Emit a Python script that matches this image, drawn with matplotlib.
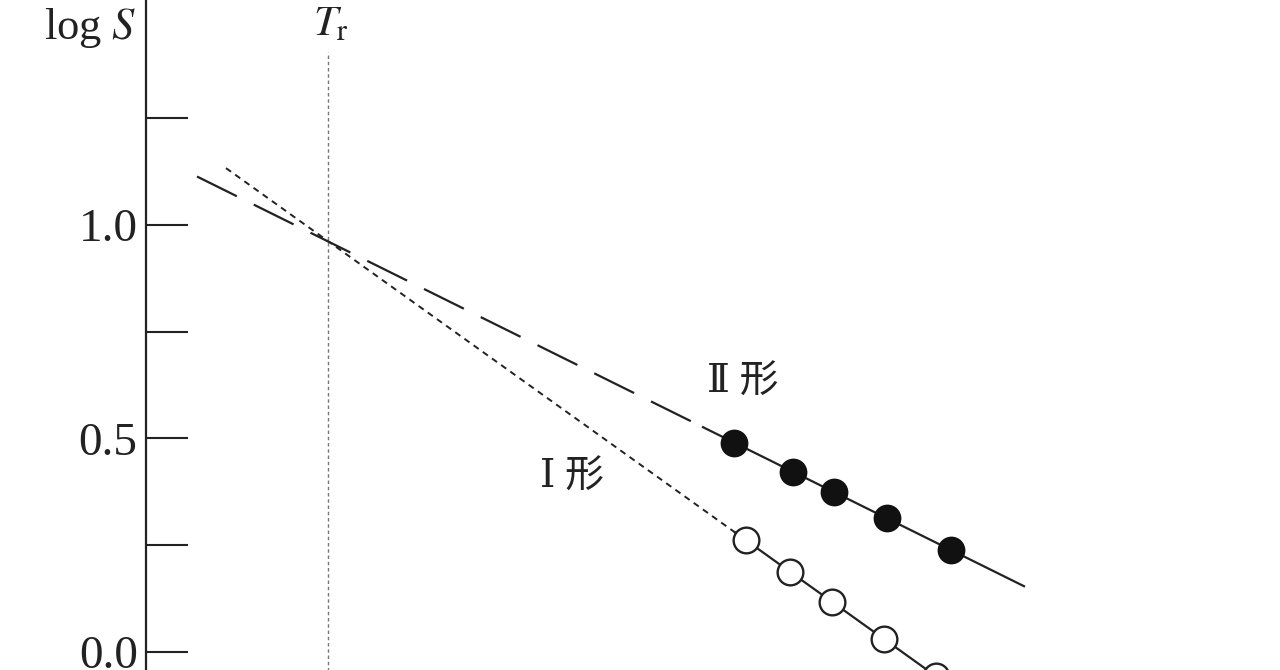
import matplotlib
matplotlib.use("Agg")
import matplotlib.pyplot as plt
import numpy as np

# data (x: arbitrary units, left spine = 0)
x_II = [5.88, 6.47, 6.88, 7.41, 8.05]
logS_II = [0.490, 0.422, 0.373, 0.313, 0.238]
x_I = [6.00, 6.44, 6.86, 7.38, 7.90]
logS_I = [0.262, 0.186, 0.117, 0.029, -0.057]
x_Tr = 1.82

# extent of the drawn lines
II_dash = [0.51, 5.57]
II_solid = [5.57, 8.78]
I_dot = [0.80, 5.89]
I_solid = [5.89, 8.6]

yticks_major = [0.0, 0.5, 1.0]
ytick_labels = ["0.0", "0.5", "1.0"]
yticks_minor = [0.25, 0.75, 1.25]

plt.rcParams["mathtext.fontset"] = "stix"
ink = "#222222"

fig = plt.figure(figsize=(12.8, 6.7), dpi=100)
ax = fig.add_axes([146 / 1280, 0, 1 - 146 / 1280, 1])
ax.set_xlim(0, 11.34)
ax.set_ylim(-0.043, 1.527)

for s in ["top", "right", "bottom"]:
    ax.spines[s].set_visible(False)
ax.spines["left"].set_linewidth(1.6)
ax.spines["left"].set_color(ink)

ax.set_xticks([])
ax.set_yticks(yticks_major)
ax.set_yticklabels(ytick_labels, family="Liberation Serif", fontsize=34, color=ink)
ax.set_yticks(yticks_minor, minor=True)
ax.tick_params(axis="y", which="both", direction="in", length=30, width=1.5,
               color=ink, pad=6)

# fitted lines
pII = np.polyfit(x_II, logS_II, 1)
pI = np.polyfit(x_I, logS_I, 1)

ax.plot(II_dash, np.polyval(pII, II_dash), color=ink, lw=1.6,
        linestyle=(0, (20, 8.5)))
ax.plot(II_solid, np.polyval(pII, II_solid), color=ink, lw=1.6)
ax.plot(I_dot, np.polyval(pI, I_dot), color=ink, lw=1.4,
        linestyle=(0, (3.2, 2.6)))
ax.plot(I_solid, np.polyval(pI, I_solid), color=ink, lw=1.6)

ax.plot(x_II, logS_II, "o", ms=18.5, mfc="#111111", mec="#111111", mew=1.5,
        zorder=5)
ax.plot(x_I, logS_I, "o", ms=18.5, mfc="white", mec=ink, mew=1.7, zorder=5)

# transition temperature
ax.plot([x_Tr, x_Tr], [-0.1, 1.405], color="#777777", lw=1.0,
        linestyle=(0, (2.5, 2)))
ax.text(x_Tr + 0.03, 1.445, r"$T_{\mathrm{r}}$", fontsize=31, color=ink,
        ha="center", va="baseline")

fig.text(137 / 1280, 1 - 39 / 670, r"log $S$", fontsize=32, color=ink,
         ha="right", va="baseline", family="Liberation Serif",
         math_fontfamily="stix")

lab_font = ["Liberation Serif", "DejaVu Serif", "Noto Sans CJK JP"]
ax.text(5.97, 0.630, "Ⅱ 形", fontsize=28, color=ink, ha="center", va="center",
        family=lab_font)
ax.text(4.26, 0.407, "Ⅰ 形", fontsize=28, color=ink, ha="center", va="center",
        family=lab_font)

fig.savefig("out.png", dpi=100)
